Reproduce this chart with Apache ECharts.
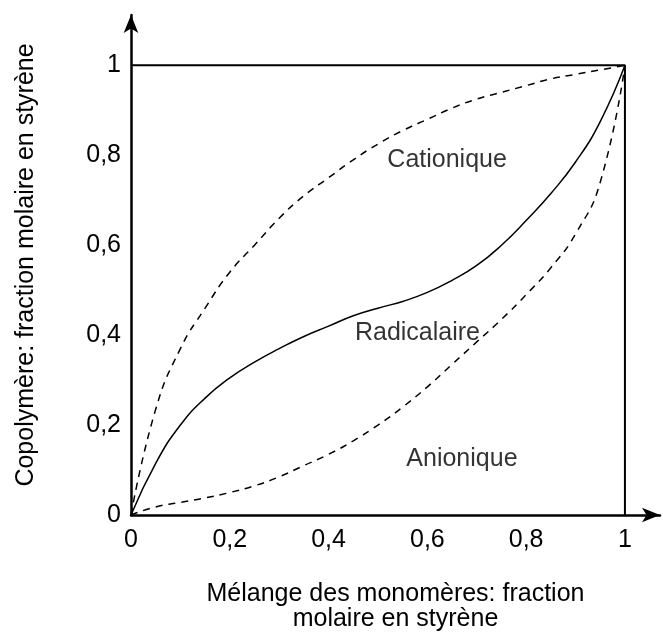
<!DOCTYPE html>
<html>
<head>
<meta charset="utf-8">
<script src="https://cdn.jsdelivr.net/npm/echarts@6/dist/echarts.min.js"></script>
<style>
  html, body { margin: 0; padding: 0; background: #fff; }
  #chart { width: 663px; height: 637px; }
</style>
</head>
<body>
<div id="chart"></div>
<script>
// x values (fraction molaire du mélange)
var xs = [0, 0.05, 0.1, 0.15, 0.2, 0.25, 0.3, 0.35, 0.4, 0.45, 0.5, 0.55, 0.6, 0.65, 0.7, 0.75, 0.8, 0.85, 0.9, 0.95, 1]
var cationique = [0, 0.235, 0.37, 0.46, 0.54, 0.6, 0.66, 0.71, 0.75, 0.79, 0.825, 0.855, 0.88, 0.905, 0.925, 0.94, 0.955, 0.97, 0.98, 0.99, 1]
var radicalaire = [0, 0.115, 0.2, 0.26, 0.305, 0.34, 0.37, 0.397, 0.42, 0.443, 0.46, 0.475, 0.495, 0.522, 0.555, 0.6, 0.655, 0.715, 0.785, 0.875, 1]
var anionique = [0, 0.018, 0.028, 0.038, 0.05, 0.065, 0.085, 0.11, 0.135, 0.165, 0.2, 0.24, 0.285, 0.335, 0.385, 0.435, 0.49, 0.55, 0.625, 0.74, 1]
var frame = [[0, 1], [1, 1], [1, 0]]
var tickLabels = ['0', '0,2', '0,4', '0,6', '0,8', '1']
var curveLabels = [
  { name: 'Cationique', x: 0.64, y: 0.79 },
  { name: 'Radicalaire', x: 0.58, y: 0.405 },
  { name: 'Anionique', x: 0.67, y: 0.125 }
]

var FONT = 'Liberation Sans'
var FS = 25

function pairs(ys) {
  return xs.map(function(x, i) { return [x, ys[i]] })
}
function tickFmt(v) {
  var i = Math.round(v / 0.2)
  if (Math.abs(v - i * 0.2) > 1e-6 || i > 5) return ''
  return tickLabels[i]
}

var chart = echarts.init(document.getElementById('chart'))
chart.setOption({
  animation: false,
  grid: { left: 131, right: 3, top: 15, bottom: 116, containLabel: false },
  xAxis: {
    type: 'value',
    min: 0,
    max: 1.071,
    interval: 0.2,
    name: 'Mélange des monomères: fraction\nmolaire en styrène',
    nameLocation: 'middle',
    nameGap: 67,
    nameTextStyle: { color: '#000', fontFamily: FONT, fontSize: FS, lineHeight: 25 },
    axisLine: { lineStyle: { color: '#000', width: 2.5 }, symbol: ['none', 'arrow'], symbolSize: [11, 18] },
    axisTick: { show: false },
    splitLine: { show: false },
    axisLabel: { color: '#000', fontFamily: FONT, fontSize: FS, margin: 13, showMaxLabel: false, formatter: tickFmt }
  },
  yAxis: {
    type: 'value',
    min: 0,
    max: 1.112,
    interval: 0.2,
    name: 'Copolymère: fraction molaire en styrène',
    nameLocation: 'middle',
    nameRotate: 90,
    nameGap: 92,
    nameTextStyle: { color: '#000', fontFamily: FONT, fontSize: FS },
    axisLine: { lineStyle: { color: '#000', width: 2.5 }, symbol: ['none', 'arrow'], symbolSize: [11, 18] },
    axisTick: { show: false },
    splitLine: { show: false },
    axisLabel: { color: '#000', fontFamily: FONT, fontSize: FS, margin: 10, showMaxLabel: false, formatter: tickFmt }
  },
  series: [
    {
      type: 'line', data: frame, showSymbol: false, silent: true,
      lineStyle: { color: '#000', width: 2 }
    },
    {
      name: 'Cationique', type: 'line', data: pairs(cationique), smooth: 0.5, showSymbol: false,
      lineStyle: { color: '#000', width: 1.5, type: [7, 6] }
    },
    {
      name: 'Radicalaire', type: 'line', data: pairs(radicalaire), smooth: 0.5, showSymbol: false,
      lineStyle: { color: '#000', width: 1.5 }
    },
    {
      name: 'Anionique', type: 'line', data: pairs(anionique), smooth: 0.5, showSymbol: false,
      lineStyle: { color: '#000', width: 1.5, type: [7, 6] }
    },
    {
      type: 'scatter', symbolSize: 0, silent: true,
      data: curveLabels.map(function(d) { return { name: d.name, value: [d.x, d.y] } }),
      label: {
        show: true, position: [0, 0], align: 'center', verticalAlign: 'middle', formatter: '{b}',
        color: '#000', textBorderWidth: 0, fontFamily: FONT, fontSize: FS
      }
    }
  ]
})
</script>
</body>
</html>
